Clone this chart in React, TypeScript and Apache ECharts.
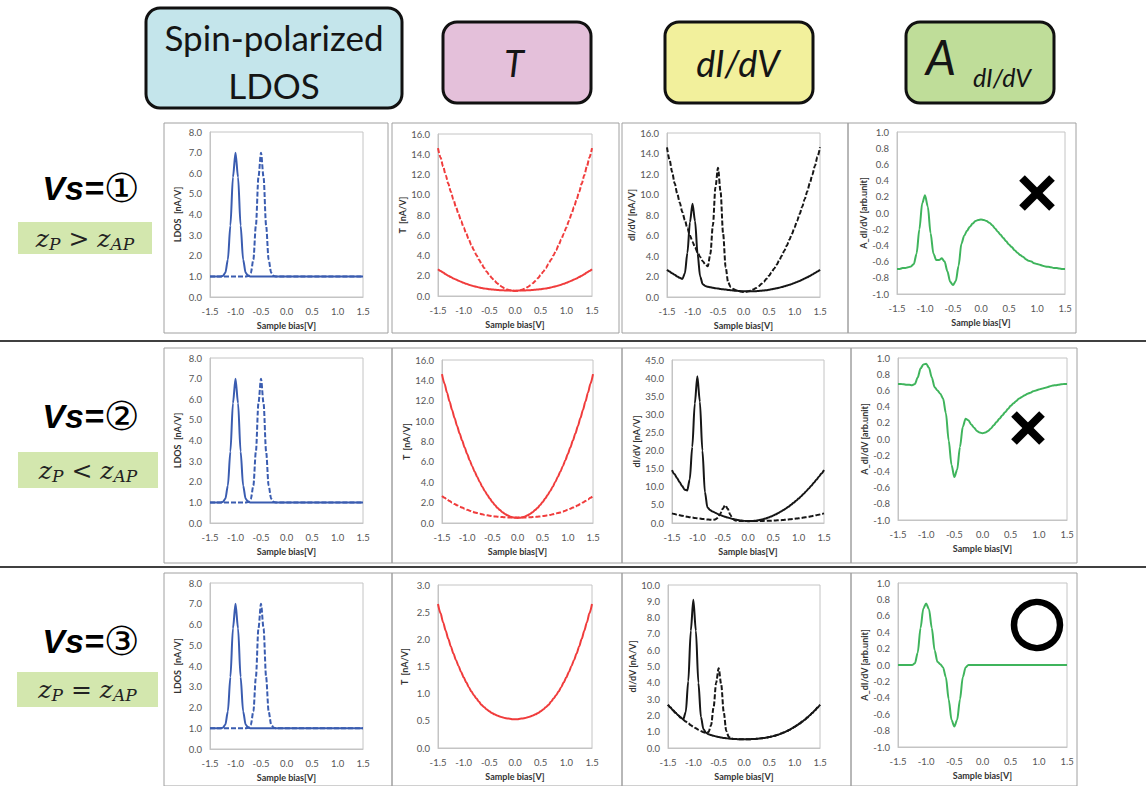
import React, { useEffect, useRef } from "react";
import * as echarts from "echarts";

// ---------- data ----------
const X = [-1.5,-1.45,-1.4,-1.35,-1.3,-1.25,-1.2,-1.15,-1.1,-1.05,-1.0,-0.95,-0.9,-0.85,-0.8,-0.75,-0.7,-0.65,-0.6,-0.55,-0.5,-0.45,-0.4,-0.35,-0.3,-0.25,-0.2,-0.15,-0.1,-0.05,0,0.05,0.1,0.15,0.2,0.25,0.3,0.35,0.4,0.45,0.5,0.55,0.6,0.65,0.7,0.75,0.8,0.85,0.9,0.95,1.0,1.05,1.1,1.15,1.2,1.25,1.3,1.35,1.4,1.45,1.5];

const LDOS_P = [1,1,1,1,1,1.02,1.17,1.81,3.47,5.81,7.0,5.81,3.47,1.81,1.17,1.02,
  1,1,1,1,1,1,1,1,1,1,1,1,1,1,1,1,1,1,1,1,1,1,1,1,1,1,1,1,1,1,1,1,1,1,1,1,1,1,1,1,1,1,1,1,1];
const LDOS_AP = [1,1,1,1,1,1,1,1,1,1,1,1,1,1,1,1.02,1.17,1.81,3.47,5.81,7.0,5.81,3.47,1.81,1.17,1.02,
  1,1,1,1,1,1,1,1,1,1,1,1,1,1,1,1,1,1,1,1,1,1,1,1,1,1,1,1,1,1,1,1,1,1,1];

const T_SMALL = [2.65,2.48,2.31,2.16,2.01,1.87,1.74,1.62,1.51,1.40,1.30,1.21,1.12,1.04,0.97,0.91,0.85,0.79,0.75,0.71,0.675,0.645,0.62,0.60,0.58,0.565,0.55,0.545,0.54,0.53,
  0.53,
  0.53,0.54,0.545,0.55,0.565,0.58,0.60,0.62,0.645,0.675,0.71,0.75,0.79,0.85,0.91,0.97,1.04,1.12,1.21,1.30,1.40,1.51,1.62,1.74,1.87,2.01,2.16,2.31,2.48,2.65];
const T_BIG = [14.61,13.68,12.79,11.93,11.10,10.30,9.53,8.79,8.09,7.41,6.77,6.16,5.58,5.03,4.51,4.03,3.57,3.15,2.76,2.40,2.07,1.77,1.50,1.27,1.06,0.89,0.75,0.64,0.56,0.52,
  0.50,
  0.52,0.56,0.64,0.75,0.89,1.06,1.27,1.50,1.77,2.07,2.40,2.76,3.15,3.57,4.03,4.51,5.03,5.58,6.16,6.77,7.41,8.09,8.79,9.53,10.30,11.10,11.93,12.79,13.68,14.61];

const DIDV1_P = [2.65,2.48,2.31,2.16,2.01,1.87,1.76,2.3,4.3,7.3,9.1,7.4,4.2,2.0,1.25,1.08,1.0,0.95,0.9,0.86,0.82,0.78,0.75,0.72,0.69,0.66,0.63,0.61,0.59,0.57,
  0.56,
  0.55,0.55,0.55,0.56,0.57,0.59,0.61,0.64,0.67,0.71,0.75,0.8,0.85,0.91,0.97,1.04,1.11,1.19,1.28,1.37,1.47,1.57,1.68,1.8,1.92,2.05,2.19,2.34,2.49,2.65];
const DIDV1_AP = [14.6,13.4,12.2,11.1,10.1,9.2,8.3,7.5,6.7,6.0,5.4,4.85,4.35,3.9,3.5,3.2,3.0,4.2,7.0,10.7,12.6,10.3,6.2,2.9,1.4,0.95,0.78,0.66,0.58,0.53,
  0.50,
  0.52,0.56,0.64,0.75,0.89,1.06,1.27,1.50,1.77,2.07,2.40,2.76,3.15,3.57,4.03,4.51,5.03,5.58,6.16,6.77,7.41,8.09,8.79,9.53,10.30,11.10,11.93,12.79,13.68,14.61];

const DIDV2_P = [14.6,13.5,12.4,11.3,10.2,9.2,9.0,12.0,21.0,33.0,40.5,33.5,20.0,8.5,4.3,3.6,3.2,2.85,2.5,2.2,1.95,1.7,1.5,1.3,1.12,0.97,0.84,0.72,0.63,0.55,
  0.50,
  0.52,0.56,0.64,0.75,0.89,1.06,1.27,1.50,1.77,2.07,2.40,2.76,3.15,3.57,4.03,4.51,5.03,5.58,6.16,6.77,7.41,8.09,8.79,9.53,10.30,11.10,11.93,12.79,13.68,14.61];
const DIDV2_AP = [2.65,2.48,2.31,2.16,2.01,1.87,1.74,1.62,1.51,1.40,1.30,1.21,1.12,1.04,0.97,0.91,0.87,0.95,1.4,2.5,3.9,4.9,3.9,2.3,1.1,0.7,0.58,0.55,0.54,0.53,
  0.53,
  0.53,0.54,0.545,0.55,0.565,0.58,0.60,0.62,0.645,0.675,0.71,0.75,0.79,0.85,0.91,0.97,1.04,1.12,1.21,1.30,1.40,1.51,1.62,1.74,1.87,2.01,2.16,2.31,2.48,2.65];

const DIDV3_P = [2.65,2.48,2.31,2.16,2.01,1.87,1.76,2.2,4.1,7.2,9.1,7.2,4.0,1.9,1.15,0.93,0.85,0.79,0.75,0.71,0.675,0.645,0.62,0.60,0.58,0.565,0.55,0.545,0.54,0.53,
  0.53,
  0.53,0.54,0.545,0.55,0.565,0.58,0.60,0.62,0.645,0.675,0.71,0.75,0.79,0.85,0.91,0.97,1.04,1.12,1.21,1.30,1.40,1.51,1.62,1.74,1.87,2.01,2.16,2.31,2.48,2.65];
const DIDV3_AP = [2.65,2.48,2.31,2.16,2.01,1.87,1.74,1.62,1.51,1.40,1.30,1.21,1.12,1.04,0.97,0.93,0.98,1.4,2.5,4.0,4.9,3.9,2.2,1.05,0.68,0.58,0.55,0.545,0.54,0.53,
  0.53,
  0.53,0.54,0.545,0.55,0.565,0.58,0.60,0.62,0.645,0.675,0.71,0.75,0.79,0.85,0.91,0.97,1.04,1.12,1.21,1.30,1.40,1.51,1.62,1.74,1.87,2.01,2.16,2.31,2.48,2.65];

const A1 = [-0.69,-0.69,-0.68,-0.68,-0.67,-0.66,-0.63,-0.5,-0.2,0.12,0.22,0.08,-0.25,-0.5,-0.58,-0.58,-0.56,-0.6,-0.72,-0.85,-0.89,-0.84,-0.65,-0.38,-0.28,-0.22,-0.17,-0.13,-0.1,-0.085,
  -0.08,
  -0.085,-0.1,-0.12,-0.15,-0.19,-0.23,-0.27,-0.31,-0.35,-0.39,-0.42,-0.46,-0.49,-0.52,-0.54,-0.57,-0.59,-0.6,-0.62,-0.63,-0.64,-0.65,-0.66,-0.665,-0.67,-0.68,-0.68,-0.685,-0.69,-0.69];
const A2 = [0.68,0.68,0.675,0.67,0.67,0.665,0.68,0.76,0.87,0.92,0.93,0.88,0.76,0.64,0.6,0.56,0.5,0.32,-0.02,-0.32,-0.47,-0.38,-0.1,0.15,0.25,0.23,0.18,0.14,0.1,0.08,
  0.07,
  0.08,0.1,0.13,0.17,0.21,0.25,0.29,0.33,0.37,0.41,0.44,0.47,0.5,0.52,0.54,0.56,0.57,0.59,0.6,0.61,0.62,0.63,0.64,0.65,0.66,0.665,0.67,0.675,0.68,0.68];
const A3 = [0,0,0,0,0,0,0.02,0.15,0.45,0.69,0.75,0.68,0.45,0.18,0.04,0.01,-0.03,-0.15,-0.42,-0.67,-0.75,-0.67,-0.42,-0.15,-0.03,0,
  0,0,0,0,0,0,0,0,0,0,0,0,0,0,0,0,0,0,0,0,0,0,0,0,0,0,0,0,0,0,0,0,0,0,0];

const HEADERS = ["Spin-polarized", "LDOS", "T", "dI/dV", "A", "dI/dV"];
const ROW_LABELS = ["Vs=", "①", "②", "③"];
const X_NAME = "Sample bias[V]";
const Y_NAMES = ["LDOS  [nA/V]", "T  [nA/V]", "dI/dV [nA/V]", "A_dI/dV [arb.unit]"];

// ---------- styling / layout ----------
const BLUE = "#3a5cb0";
const RED = "#f03c3c";
const BLACK = "#161616";
const GREEN = "#3fb45c";
const FONT = "Lato, 'Open Sans', sans-serif";

const pairs = (ys: number[]) => X.map((x, i) => [x, ys[i]]);
const fmt = (v: number) => (Math.abs(v) < 1e-9 ? 0 : v).toFixed(1);

type S = { data: number[]; color: string; dashed?: boolean };
type P = { rect: number[]; y: [number, number, number]; name: string; gap: number; series: S[] };

const PANELS: P[] = [
  { rect: [210, 132, 153, 165], y: [0, 8, 1], name: Y_NAMES[0], gap: 28, series: [{ data: LDOS_AP, color: BLUE, dashed: true }, { data: LDOS_P, color: BLUE }] },
  { rect: [438, 134, 154, 162], y: [0, 16, 2], name: Y_NAMES[1], gap: 29, series: [{ data: T_BIG, color: RED, dashed: true }, { data: T_SMALL, color: RED }] },
  { rect: [667, 133, 153, 164], y: [0, 16, 2], name: Y_NAMES[2], gap: 29, series: [{ data: DIDV1_AP, color: BLACK, dashed: true }, { data: DIDV1_P, color: BLACK }] },
  { rect: [897, 132, 168, 162], y: [-1, 1, 0.2], name: Y_NAMES[3], gap: 28, series: [{ data: A1, color: GREEN }] },

  { rect: [210, 358, 153, 165], y: [0, 8, 1], name: Y_NAMES[0], gap: 28, series: [{ data: LDOS_AP, color: BLUE, dashed: true }, { data: LDOS_P, color: BLUE }] },
  { rect: [442, 360, 151, 163], y: [0, 16, 2], name: Y_NAMES[1], gap: 29, series: [{ data: T_SMALL, color: RED, dashed: true }, { data: T_BIG, color: RED }] },
  { rect: [672, 360, 152, 163], y: [0, 45, 5], name: Y_NAMES[2], gap: 27, series: [{ data: DIDV2_AP, color: BLACK, dashed: true }, { data: DIDV2_P, color: BLACK }] },
  { rect: [898, 358, 169, 162], y: [-1, 1, 0.2], name: Y_NAMES[3], gap: 28, series: [{ data: A2, color: GREEN }] },

  { rect: [210, 583, 153, 166], y: [0, 8, 1], name: Y_NAMES[0], gap: 28, series: [{ data: LDOS_AP, color: BLUE, dashed: true }, { data: LDOS_P, color: BLUE }] },
  { rect: [438, 585, 154, 163], y: [0, 3, 0.5], name: Y_NAMES[1], gap: 29, series: [{ data: T_SMALL, color: RED }] },
  { rect: [668, 585, 152, 163], y: [0, 10, 1], name: Y_NAMES[2], gap: 29, series: [{ data: DIDV3_AP, color: BLACK, dashed: true }, { data: DIDV3_P, color: BLACK }] },
  { rect: [898, 583, 169, 164], y: [-1, 1, 0.2], name: Y_NAMES[3], gap: 28, series: [{ data: A3, color: GREEN }] },
];

const FRAMES = [
  [164, 123, 224, 210], [392, 123, 227, 210], [622, 123, 226, 210], [848, 123, 228, 210],
  [164, 348, 228, 215], [392, 348, 230, 215], [622, 348, 229, 215], [851, 348, 226, 215],
  [164, 573, 228, 213], [392, 573, 230, 213], [622, 573, 229, 213], [851, 573, 226, 213],
];

function buildGraphic() {
  const g: any[] = [];
  FRAMES.forEach(([x, y, w, h]) =>
    g.push({ type: "rect", shape: { x, y, width: w, height: h }, style: { fill: "none", stroke: "#a0a0a0", lineWidth: 1 }, silent: true })
  );
  [341, 567].forEach((y) =>
    g.push({ type: "line", shape: { x1: 0, y1: y, x2: 1146, y2: y }, style: { stroke: "#000", lineWidth: 1.5 } })
  );
  // header boxes
  const box = (x: number, y: number, w: number, h: number, fill: string) =>
    g.push({ type: "rect", shape: { x, y, width: w, height: h, r: 14 }, style: { fill, stroke: "#111", lineWidth: 3 } });
  box(146, 8, 256, 100, "#c4e5eb");
  box(443, 22, 148, 81, "#e4c0da");
  box(665, 22, 148, 81, "#f2f09c");
  box(906, 22, 148, 81, "#bfdd99");
  const txt = (x: number, y: number, text: string, size: number, italic = false, extra: any = {}) =>
    g.push({ type: "text", x, y, style: { text, fontFamily: FONT, fontSize: size, fontStyle: italic ? "italic" : "normal", fill: "#151515", align: "center", verticalAlign: "middle", ...extra } });
  txt(274, 37, HEADERS[0], 35);
  txt(274, 85, HEADERS[1], 35);
  txt(514, 63, HEADERS[2], 36, true);
  txt(738, 63, HEADERS[3], 36, true);
  txt(941, 56, HEADERS[4], 48, true);
  txt(1002, 77, HEADERS[5], 25, true);

  // row labels
  const rows = [
    { y: 188, box: [18, 222, 134, 32] , rel: ">" },
    { y: 416, box: [18, 452, 140, 36], rel: "<" },
    { y: 641, box: [17, 672, 141, 35], rel: "=" },
  ];
  rows.forEach((r, i) => {
    g.push({
      type: "text", x: 91, y: r.y,
      style: {
        text: `{a|${ROW_LABELS[0]}}{b|${ROW_LABELS[i + 1]}}`, align: "center", verticalAlign: "middle",
        rich: {
          a: { fontFamily: "'Liberation Sans', Arial, sans-serif", fontWeight: "bold", fontStyle: "italic", fontSize: 34, fill: "#000" },
          b: { fontFamily: "'DejaVu Sans', sans-serif", fontSize: 40, fill: "#000" },
        },
      },
    });
    const [bx, by, bw, bh] = r.box;
    g.push({ type: "rect", shape: { x: bx, y: by, width: bw, height: bh }, style: { fill: "#d3e7ae" } });
    const s = 25, ss = 17;
    const serif = "'DejaVu Serif', 'Liberation Serif', serif";
    g.push({
      type: "text", x: bx + bw / 2, y: by + bh / 2,
      style: {
        text: `{z|z}{s|P}{o| ${r.rel} }{z|z}{s|AP}`, align: "center", verticalAlign: "middle",
        rich: {
          z: { fontFamily: serif, fontStyle: "italic", fontSize: s, fill: "#222" },
          s: { fontFamily: serif, fontStyle: "italic", fontSize: ss, fill: "#222", padding: [11, 0, 0, 0] },
          o: { fontFamily: serif, fontSize: s, fill: "#222" },
        },
      },
    });
  });

  // verdict marks
  const cross = (cx: number, cy: number, h: number) => {
    g.push({ type: "line", shape: { x1: cx - h, y1: cy - h, x2: cx + h, y2: cy + h }, style: { stroke: "#000", lineWidth: 8 } });
    g.push({ type: "line", shape: { x1: cx - h, y1: cy + h, x2: cx + h, y2: cy - h }, style: { stroke: "#000", lineWidth: 8 } });
  };
  cross(1037, 193, 15);
  cross(1028, 428, 14);
  g.push({ type: "circle", shape: { cx: 1037, cy: 625, r: 23 }, style: { fill: "none", stroke: "#000", lineWidth: 6.5 } });
  return g;
}

function buildOption() {
  const grid: any[] = [], xAxis: any[] = [], yAxis: any[] = [], series: any[] = [];
  const nameStyle = { fontFamily: FONT, fontSize: 9, fontWeight: "bold", color: "#333" };
  const labelStyle = { fontFamily: FONT, fontSize: 9.5, color: "#555" };
  PANELS.forEach((p, i) => {
    const [l, t, w, h] = p.rect;
    grid.push({ left: l, top: t, width: w, height: h, show: true, borderColor: "#c4c4c4", borderWidth: 1, backgroundColor: "transparent" });
    xAxis.push({
      type: "value", gridIndex: i, min: -1.5, max: 1.5, interval: 0.5,
      name: X_NAME, nameLocation: "middle", nameGap: 24, nameTextStyle: nameStyle,
      axisLine: { show: true, onZero: false, lineStyle: { color: "#c4c4c4" } },
      axisTick: { show: false }, splitLine: { show: false },
      axisLabel: { ...labelStyle, margin: 9, formatter: fmt },
    });
    yAxis.push({
      type: "value", gridIndex: i, min: p.y[0], max: p.y[1], interval: p.y[2],
      name: p.name, nameLocation: "middle", nameRotate: 90, nameGap: p.gap, nameTextStyle: nameStyle,
      axisLine: { show: true, onZero: false, lineStyle: { color: "#c4c4c4" } },
      axisTick: { show: false }, splitLine: { show: false },
      axisLabel: { ...labelStyle, margin: 8, formatter: fmt },
    });
    p.series.forEach((s) =>
      series.push({
        type: "line", xAxisIndex: i, yAxisIndex: i, data: pairs(s.data),
        showSymbol: false, symbol: "none", smooth: 0.3, smoothMonotone: "x",
        lineStyle: { color: s.color, width: 2, type: s.dashed ? [5, 2] : "solid" },
        z: s.dashed ? 2 : 3,
      })
    );
  });
  return { animation: false, backgroundColor: "#fff", grid, xAxis, yAxis, series, graphic: buildGraphic() };
}

export default function App() {
  const ref = useRef<HTMLDivElement>(null);
  useEffect(() => {
    if (!ref.current) return;
    const chart = echarts.init(ref.current, undefined, { renderer: "svg" });
    chart.setOption(buildOption() as any);
    return () => chart.dispose();
  }, []);
  return <div ref={ref} style={{ position: "fixed", left: 0, top: 0, width: 1146, height: 786, background: "#fff" }} />;
}
